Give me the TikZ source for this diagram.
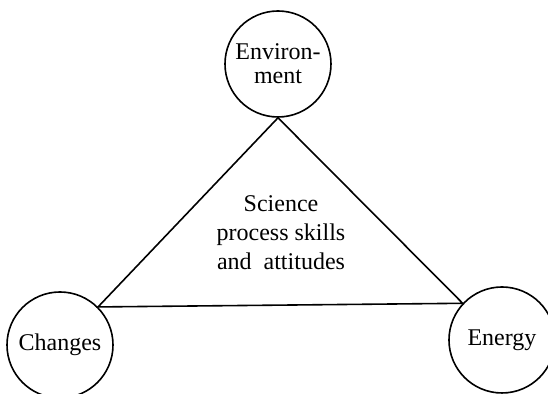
\documentclass[tikz,border=0pt]{standalone}
\usepackage{fontspec}
\setmainfont{Liberation Serif}
\begin{document}
\begin{tikzpicture}[x=0.5pt,y=0.5pt,
	topic/.style={draw,circle,line width=0.8pt,minimum size=53pt,inner sep=0pt,align=center,font=\fontsize{12}{12}\selectfont},
	link/.style={line width=0.8pt}]
	\useasboundingbox (0,0) rectangle (548,394);
	\clip (0,0) rectangle (548,394);
	\node[topic] (env) at (278,330) {Environ-\\ment};
	\node[topic] (chg) at (60,49) {Changes};
	\node[topic] (eng) at (502,54) {Energy};
	\node[align=center,font=\fontsize{12}{14.5}\selectfont] (skills) at (281,161) {Science\\process skills\\and\ \ attitudes};
	\draw[link] (env.south) -- (chg.45) -- (eng.137) -- cycle;
\end{tikzpicture}
\end{document}
